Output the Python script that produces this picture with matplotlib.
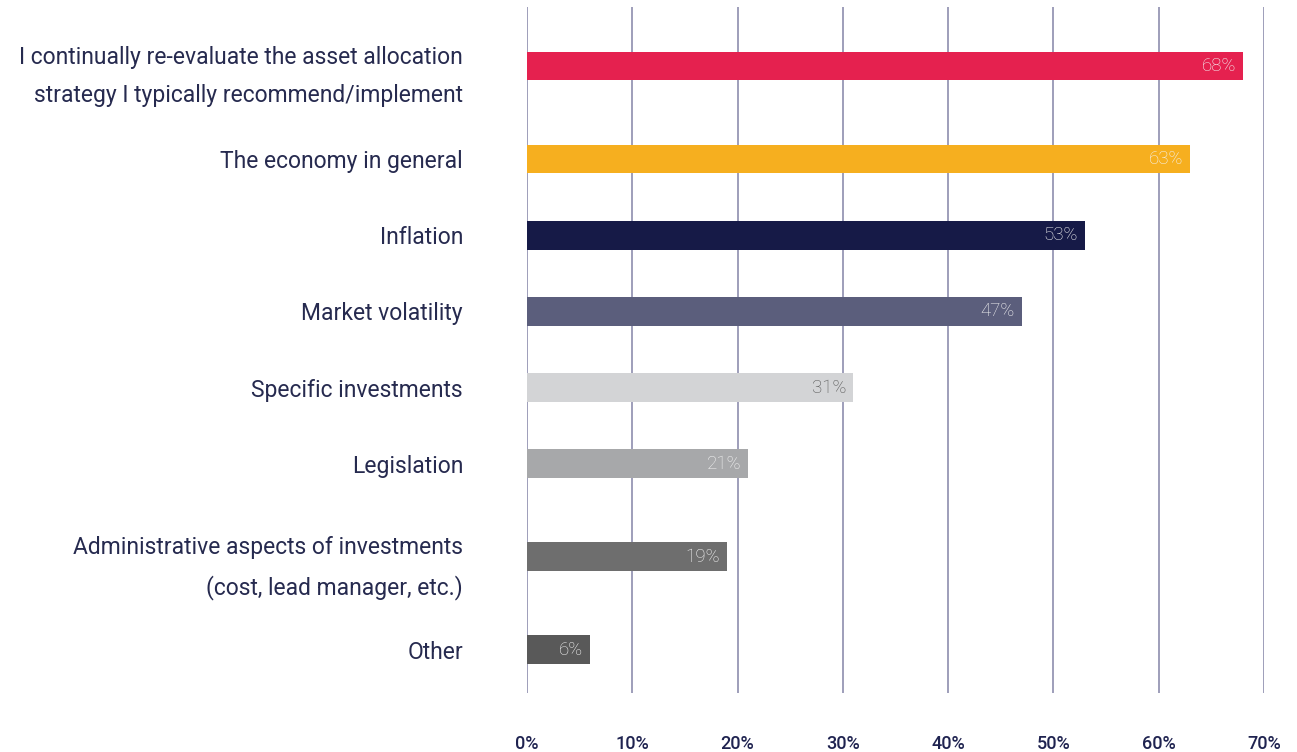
import matplotlib.pyplot as plt
import numpy as np

categories = [
    "I continually re-evaluate the asset allocation\nstrategy I typically recommend/implement",
    "The economy in general",
    "Inflation",
    "Market volatility",
    "Specific investments",
    "Legislation",
    "Administrative aspects of investments\n(cost, lead manager, etc.)",
    "Other",
]
values = [68, 63, 53, 47, 31, 21, 19, 6]
bar_colors = ["#E5214F", "#F6AF1F", "#161A47", "#5B5E7C",
              "#D3D4D6", "#A7A8AA", "#6E6E6E", "#595959"]
label_colors = ["#F4F4F4", "#F4F4F4", "#F4F4F4", "#F4F4F4",
                "#555555", "#F4F4F4", "#F4F4F4", "#F4F4F4"]
ticks = [0, 10, 20, 30, 40, 50, 60, 70]

# extra room next to two-line labels
pos = [0.0]
for a, b in zip(categories[:-1], categories[1:]):
    step = 1.22 if ("\n" in a or "\n" in b) else 1.0
    pos.append(pos[-1] + step)
pos = np.array(pos)

plt.rcParams['font.family'] = ['Roboto', 'DejaVu Sans']

fig = plt.figure(figsize=(12.97, 7.52), dpi=100)
ax = fig.add_axes([0.4063, 0.0785, 0.5683, 0.9122])

ax.barh(pos, values, height=0.38, color=bar_colors, zorder=3)

for y, v, c in zip(pos, values, label_colors):
    ax.annotate(f"{v}%", (v, y), xytext=(-5, 0), textcoords="offset points",
                ha="right", va="center", fontsize=13.5, color=c,
                fontweight="light", zorder=4)

ax.set_xlim(0, 70)
ax.set_ylim(pos[-1] + 0.564, -0.774)
ax.set_xticks(ticks)
ax.set_xticklabels([f"{t}%" for t in ticks], fontsize=13, fontweight="medium",
                   color="#1F2350")
ax.set_yticks(pos)
ax.set_yticklabels(categories, fontsize=16.5, color="#262A4F", linespacing=1.85)
ax.tick_params(axis="both", length=0)
ax.tick_params(axis="x", pad=30)
ax.tick_params(axis="y", pad=46)

ax.grid(axis="x", color="#8E8EAE", linewidth=1.2, zorder=0)
for s in ax.spines.values():
    s.set_visible(False)

fig.savefig("out.png", dpi=100)
